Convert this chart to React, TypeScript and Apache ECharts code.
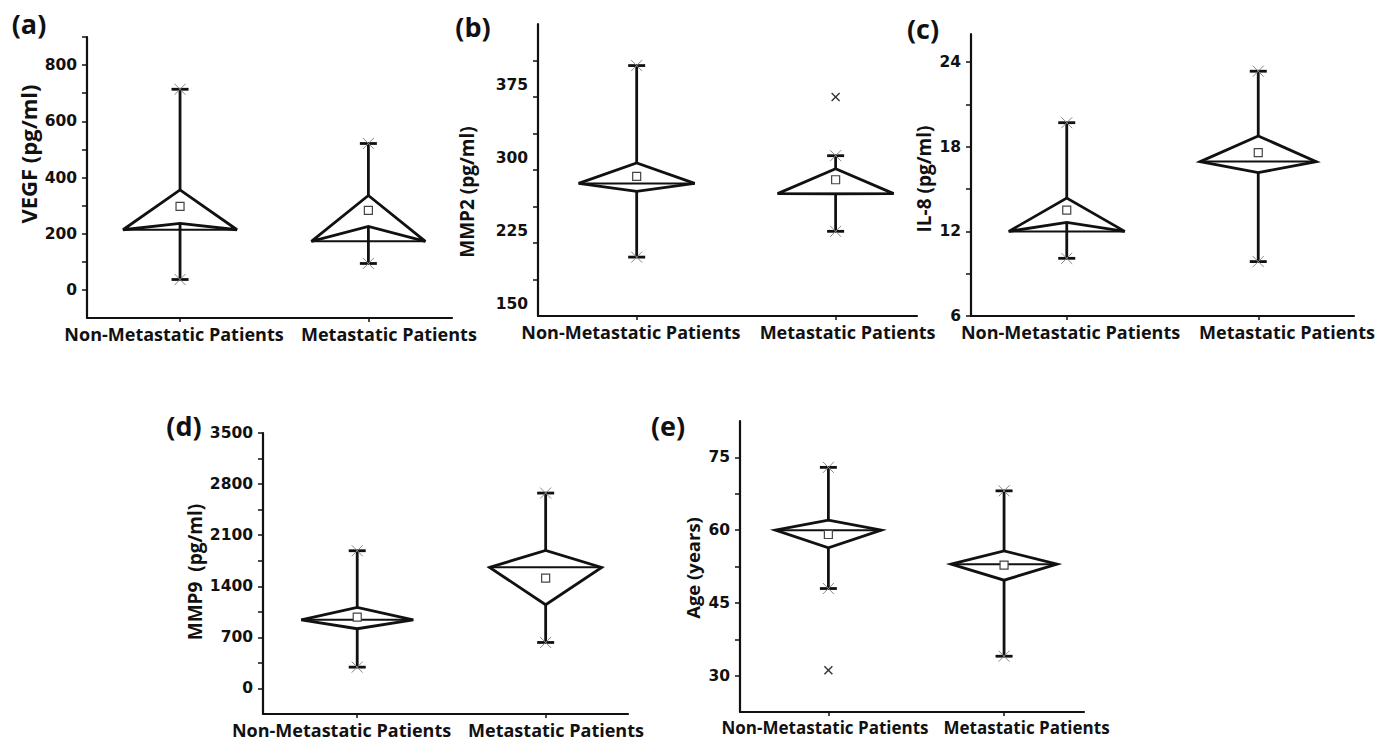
import React, { useEffect, useRef } from "react";
import * as echarts from "echarts";

const groups = ["Non-Metastatic Patients", "Metastatic Patients"];

// (a) VEGF (pg/ml)
const vegfLow = [37, 94];
const vegfQ1 = [237, 226];
const vegfMedian = [214, 173];
const vegfQ3 = [356, 336];
const vegfHigh = [714, 521];
const vegfMean = [297, 283];
const vegfOutliers: number[][] = [];
const vegfTicks = [0, 100, 200, 300, 400, 500, 600, 700, 800, 900];
const vegfLabels = [0, 200, 400, 600, 800];

// (b) MMP2 (pg/ml)
const mmp2Low = [198, 224.5];
const mmp2Q1 = [265.5, 263];
const mmp2Median = [273.7, 263.2];
const mmp2Q3 = [294.7, 288.8];
const mmp2High = [394.8, 302.2];
const mmp2Mean = [280.9, 277.5];
const mmp2Outliers: number[][] = [[2, 362.4]];
const mmp2Ticks = [175, 212.5, 250, 287.5, 325, 362.5, 400];
const mmp2Labels = [150, 225, 300, 375];

// (c) IL-8 (pg/ml)
const il8Low = [10.09, 9.86];
const il8Q1 = [12.64, 16.17];
const il8Median = [12.0, 16.95];
const il8Q3 = [14.36, 18.77];
const il8High = [19.71, 23.36];
const il8Mean = [13.51, 17.59];
const il8Outliers: number[][] = [];
const il8Ticks = [6, 9, 12, 15, 18, 21, 24];
const il8Labels = [6, 12, 18, 24];

// (d) MMP9 (pg/ml)
const mmp9Low = [292, 630];
const mmp9Q1 = [818, 1147];
const mmp9Median = [941, 1659];
const mmp9Q3 = [1110, 1892];
const mmp9High = [1887, 2677];
const mmp9Mean = [978, 1512];
const mmp9Outliers: number[][] = [];
const mmp9Ticks = [0, 350, 700, 1050, 1400, 1750, 2100, 2450, 2800, 3150, 3500];
const mmp9Labels = [0, 700, 1400, 2100, 2800, 3500];

// (e) Age (years)
const ageLow = [47.96, 34.0];
const ageQ1 = [56.35, 49.68];
const ageMedian = [60.0, 52.98];
const ageQ3 = [62.06, 55.73];
const ageHigh = [72.94, 68.1];
const ageMean = [59.1, 52.77];
const ageOutliers: number[][] = [[1, 31.1]];
const ageTicks = [30, 37.5, 45, 52.5, 60, 67.5, 75];
const ageLabels = [30, 45, 60, 75];

const panels = [
  {
    tag: "(a)", name: "VEGF (pg/ml)",
    low: vegfLow, q1: vegfQ1, med: vegfMedian, q3: vegfQ3, high: vegfHigh, mean: vegfMean, out: vegfOutliers,
    ticks: vegfTicks, labels: vegfLabels, ymin: -100, ymax: 900, xmin: 0.506, xmax: 2.444,
    grid: { left: 87, top: 37, width: 365, height: 281 }, halfW: 57,
    tagPos: [29, 23], namePos: [28, 154], nameSize: 22, xLabelAt: [0.968, 2.109], xLabelSize: 18,
  },
  {
    tag: "(b)", name: "MMP2 (pg/ml)",
    low: mmp2Low, q1: mmp2Q1, med: mmp2Median, q3: mmp2Q3, high: mmp2High, mean: mmp2Mean, out: mmp2Outliers,
    ticks: mmp2Ticks, labels: mmp2Labels, ymin: 137.5, ymax: 437.5, xmin: 0.504, xmax: 2.409,
    grid: { left: 538, top: 24, width: 379, height: 292 }, halfW: 58,
    tagPos: [473, 26], namePos: [467, 192], nameSize: 19, xLabelAt: [0.971, 2.06], xLabelSize: 18,
  },
  {
    tag: "(c)", name: "IL-8 (pg/ml)",
    low: il8Low, q1: il8Q1, med: il8Median, q3: il8Q3, high: il8High, mean: il8Mean, out: il8Outliers,
    ticks: il8Ticks, labels: il8Labels, ymin: 6, ymax: 26, xmin: 0.5, xmax: 2.5,
    grid: { left: 971, top: 34, width: 383, height: 282 }, halfW: 58,
    tagPos: [923, 28], namePos: [924, 179], nameSize: 19, xLabelAt: [1.02, 2.15], xLabelSize: 18,
  },
  {
    tag: "(d)", name: "MMP9  (pg/ml)",
    low: mmp9Low, q1: mmp9Q1, med: mmp9Median, q3: mmp9Q3, high: mmp9High, mean: mmp9Mean, out: mmp9Outliers,
    ticks: mmp9Ticks, labels: mmp9Labels, ymin: -350, ymax: 3500, xmin: 0.5, xmax: 2.437,
    grid: { left: 263, top: 433, width: 365, height: 281 }, halfW: 56,
    tagPos: [184, 425], namePos: [195, 572], nameSize: 19, xLabelAt: [0.917, 2.055], xLabelSize: 18,
  },
  {
    tag: "(e)", name: "Age (years)",
    low: ageLow, q1: ageQ1, med: ageMedian, q3: ageQ3, high: ageHigh, mean: ageMean, out: ageOutliers,
    ticks: ageTicks, labels: ageLabels, ymin: 22.5, ymax: 82.5, xmin: 0.497, xmax: 2.455,
    grid: { left: 740, top: 421, width: 344, height: 291 }, halfW: 53,
    tagPos: [668, 425], namePos: [692, 568], nameSize: 18.5, xLabelAt: [0.981, 2.128], xLabelSize: 17,
  },
];

const INK = "#111";
const LW = 2.8;

function boxRender(halfW: number) {
  return (params: any, api: any) => {
    const x = api.value(0);
    const low = api.coord([x, api.value(1)]);
    const q1 = api.coord([x, api.value(2)]);
    const med = api.coord([x, api.value(3)]);
    const q3 = api.coord([x, api.value(4)]);
    const high = api.coord([x, api.value(5)]);
    const mean = api.coord([x, api.value(6)]);
    const cx = med[0];
    const capW = 8.5;
    const xs = 5.5;
    const line = (x1: number, y1: number, x2: number, y2: number, stroke = INK, w = LW) => ({
      type: "line",
      shape: { x1, y1, x2, y2 },
      style: { stroke, lineWidth: w },
    });
    return {
      type: "group",
      children: [
        line(cx, q3[1], cx, high[1]),
        line(cx, q1[1], cx, low[1]),
        line(cx - capW, high[1], cx + capW, high[1]),
        line(cx - capW, low[1], cx + capW, low[1]),
        line(cx - xs, high[1] - xs, cx + xs, high[1] + xs, "#888", 1),
        line(cx - xs, high[1] + xs, cx + xs, high[1] - xs, "#888", 1),
        line(cx - xs, low[1] - xs, cx + xs, low[1] + xs, "#888", 1),
        line(cx - xs, low[1] + xs, cx + xs, low[1] - xs, "#888", 1),
        {
          type: "polygon",
          shape: {
            points: [
              [cx - halfW, med[1]],
              [cx, q3[1]],
              [cx + halfW, med[1]],
              [cx, q1[1]],
            ],
          },
          style: { fill: "none", stroke: INK, lineWidth: LW, lineJoin: "miter" },
        },
        line(cx - halfW, med[1], cx + halfW, med[1], INK, 2),
        {
          type: "rect",
          shape: { x: cx - 4, y: mean[1] - 4, width: 8, height: 8 },
          style: { fill: "#fff", stroke: "#444", lineWidth: 1.2 },
        },
      ],
    };
  };
}

function outlierRender(params: any, api: any) {
  const p = api.coord([api.value(0), api.value(1)]);
  const s = 4;
  return {
    type: "group",
    children: [
      { type: "line", shape: { x1: p[0] - s, y1: p[1] - s, x2: p[0] + s, y2: p[1] + s }, style: { stroke: "#333", lineWidth: 1.4 } },
      { type: "line", shape: { x1: p[0] - s, y1: p[1] + s, x2: p[0] + s, y2: p[1] - s }, style: { stroke: "#333", lineWidth: 1.4 } },
    ],
  };
}

export default function App() {
  const ref = useRef<HTMLDivElement>(null);
  useEffect(() => {
    if (!ref.current) return;
    const chart = echarts.init(ref.current, undefined, { renderer: "svg" });
    const tickFont = { fontFamily: "DejaVu Sans", fontWeight: "bold" as const, fontSize: 15.5, color: INK };
    const option: any = {
      animation: false,
      backgroundColor: "#fff",
      grid: panels.map((p) => ({ ...p.grid })),
      xAxis: panels.map((p, i) => ({
        type: "value",
        gridIndex: i,
        min: p.xmin,
        max: p.xmax,
        splitLine: { show: false },
        axisLine: { show: true, onZero: false, lineStyle: { color: INK, width: 2.2 } },
        axisTick: { show: true, customValues: [1, 2], length: 4, lineStyle: { color: INK, width: 1.5 } },
        axisLabel: {
          show: true,
          customValues: p.xLabelAt,
          formatter: (v: number) => (v < 1.5 ? groups[0] : groups[1]),
          fontFamily: "Open Sans",
          fontWeight: "bold",
          fontSize: p.xLabelSize,
          color: INK,
          margin: 7,
        },
      })),
      yAxis: panels.map((p, i) => ({
        type: "value",
        gridIndex: i,
        min: p.ymin,
        max: p.ymax,
        splitLine: { show: false },
        axisLine: { show: true, onZero: false, lineStyle: { color: INK, width: 2.2 } },
        axisTick: { show: true, customValues: p.ticks, length: 5, lineStyle: { color: INK, width: 1.5 } },
        axisLabel: {
          show: true,
          customValues: p.labels,
          formatter: (v: number) => String(v),
          margin: 10,
          ...tickFont,
        },
      })),
      series: panels.flatMap((p, i) => [
        {
          type: "custom",
          xAxisIndex: i,
          yAxisIndex: i,
          renderItem: boxRender(p.halfW),
          data: groups.map((g, j) => [j + 1, p.low[j], p.q1[j], p.med[j], p.q3[j], p.high[j], p.mean[j]]),
          silent: true,
        },
        {
          type: "custom",
          xAxisIndex: i,
          yAxisIndex: i,
          renderItem: outlierRender,
          data: p.out,
          silent: true,
        },
      ]),
      graphic: panels.flatMap((p) => [
        {
          type: "text",
          x: p.tagPos[0],
          y: p.tagPos[1],
          style: {
            text: p.tag,
            font: "bold 27px 'Open Sans'",
            fill: INK,
            align: "center",
            verticalAlign: "middle",
            textAlign: "center",
            textVerticalAlign: "middle",
          },
        },
        {
          type: "text",
          x: p.namePos[0],
          y: p.namePos[1],
          rotation: Math.PI / 2,
          style: {
            text: p.name,
            font: `bold ${p.nameSize}px 'Open Sans'`,
            fill: INK,
            align: "center",
            verticalAlign: "middle",
            textAlign: "center",
            textVerticalAlign: "middle",
          },
        },
      ]),
    };
    chart.setOption(option);
    return () => chart.dispose();
  }, []);
  return (
    <div
      ref={ref}
      style={{ position: "absolute", left: 0, top: 0, width: 1392, height: 746, background: "#fff" }}
    />
  );
}
